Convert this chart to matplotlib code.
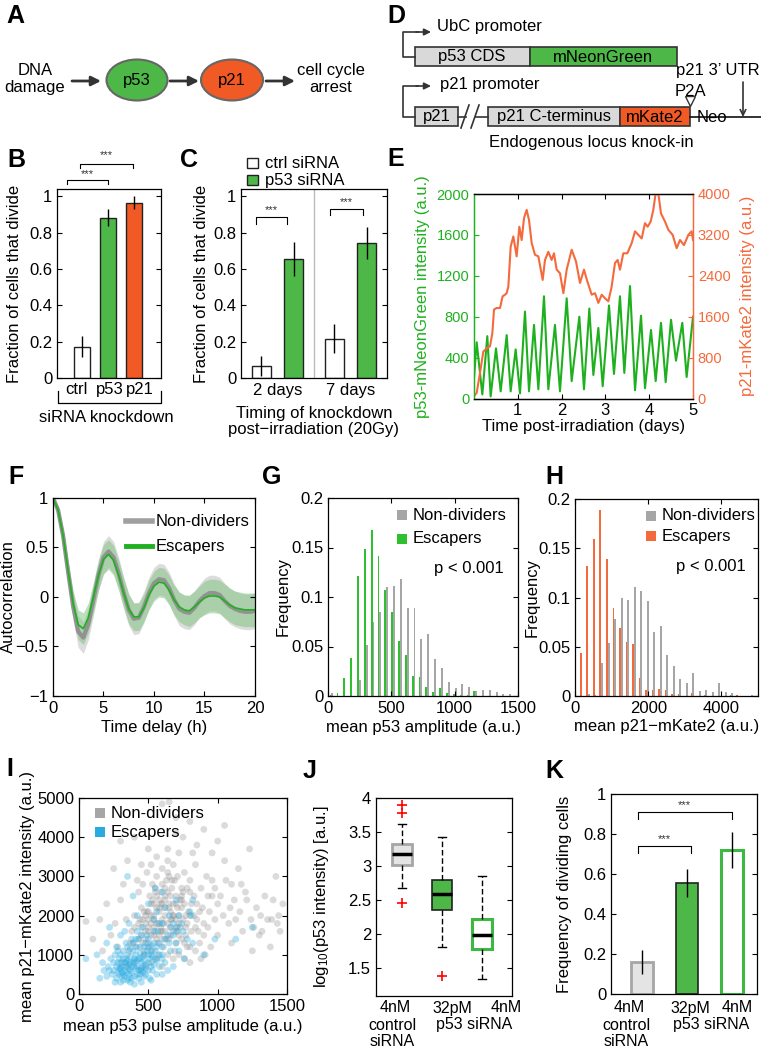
import matplotlib
matplotlib.use('Agg')
import matplotlib.pyplot as plt
from matplotlib.patches import Ellipse, Rectangle

plt.rcParams['font.family'] = ['Liberation Sans', 'DejaVu Sans']
plt.rcParams['font.size'] = 12
plt.rcParams['mathtext.default'] = 'regular'
plt.rcParams['axes.linewidth'] = 0.9
plt.rcParams['xtick.direction'] = 'in'
plt.rcParams['ytick.direction'] = 'in'
plt.rcParams['xtick.major.size'] = 3.5
plt.rcParams['ytick.major.size'] = 3.5
plt.rcParams['xtick.labelsize'] = 12
plt.rcParams['ytick.labelsize'] = 12

# ---------------- data ----------------
# B
b_labels = ['ctrl', 'p53', 'p21']
b_vals = [0.172, 0.883, 0.965]
b_err = [0.057, 0.049, 0.035]
# C
c_groups = ['2 days', '7 days']
c_ctrl = [0.065, 0.215]
c_ctrl_err = [0.055, 0.08]
c_p53 = [0.654, 0.745]
c_p53_err = [0.093, 0.088]
# E
e_green_t = [0, 0.061, 0.19, 0.304, 0.38, 0.502, 0.609, 0.746, 0.837, 0.951,
             1.05, 1.164, 1.256, 1.37, 1.469, 1.598, 1.697, 1.849, 1.963, 2.116,
             2.23, 2.405, 2.511, 2.633, 2.725, 2.839, 2.938, 3.082, 3.196, 3.333,
             3.432, 3.562, 3.676, 3.813, 3.904, 4.041, 4.148, 4.269, 4.376, 4.498,
             4.612, 4.756, 4.855, 5.0]
e_green = [200, 550, 40, 610, 20, 490, 70, 620, 70, 480,
           50, 850, 70, 720, 90, 1000, 90, 720, 70, 980,
           170, 800, 90, 880, 230, 690, 120, 910, 240, 1000,
           250, 1100, 80, 810, 100, 670, 170, 740, 160, 770,
           370, 740, 210, 800]
e_orange_t = [0, 0.061, 0.137, 0.213, 0.304, 0.365, 0.419, 0.457, 0.517, 0.594,
              0.654, 0.708, 0.746, 0.784, 0.837, 0.898, 0.974, 1.035, 1.088, 1.142,
              1.202, 1.256, 1.317, 1.393, 1.469, 1.568, 1.621, 1.697, 1.773, 1.826,
              1.887, 1.963, 2.04, 2.116, 2.23, 2.329, 2.42, 2.511, 2.588, 2.687,
              2.763, 2.839, 2.915, 2.991, 3.067, 3.143, 3.219, 3.28, 3.333, 3.409,
              3.501, 3.6, 3.676, 3.752, 3.828, 3.904, 3.965, 4.033, 4.094, 4.148,
              4.209, 4.269, 4.361, 4.437, 4.536, 4.627, 4.703, 4.795, 4.893, 4.969, 5.0]
e_orange = [45, 110, 500, 920, 990, 1020, 1280, 1740, 1770, 1770,
            2000, 2030, 2060, 2190, 2970, 3170, 2780, 3360, 3100, 3530,
            3690, 3490, 3040, 2810, 2780, 2320, 2710, 2870, 2710, 2840,
            2520, 2450, 2060, 2520, 2910, 2680, 2260, 2520, 2290, 2030,
            2060, 1870, 2030, 1960, 1900, 2190, 2650, 2710, 2520, 2840,
            2840, 3040, 3270, 3200, 3130, 3430, 3360, 3460, 3690, 4020,
            4010, 3620, 3460, 3300, 3200, 2940, 3100, 3000, 3200, 3270, 3100]
# F
f_t = [0, 0.5, 1, 1.5, 2, 2.5, 3, 3.5, 4, 4.5, 5, 5.5, 6, 6.5, 7, 7.5, 8, 8.5, 9, 9.5,
       10, 10.5, 11, 11.5, 12, 12.5, 13, 13.5, 14, 14.5, 15, 15.5, 16, 16.5, 17, 17.5,
       18, 18.5, 19, 19.5, 20]
f_gray = [1.0, 0.88, 0.62, 0.25, -0.1, -0.35, -0.41, -0.27, -0.03, 0.22,
          0.40, 0.46, 0.40, 0.24, 0.04, -0.13, -0.22, -0.21, -0.10, 0.04,
          0.14, 0.18, 0.17, 0.09, -0.03, -0.12, -0.15, -0.16, -0.11, -0.04,
          0.01, 0.04, 0.04, 0.02, -0.04, -0.09, -0.12, -0.14, -0.15, -0.15, -0.14]
f_green = [1.0, 0.88, 0.62, 0.26, -0.07, -0.28, -0.32, -0.21, 0.0, 0.22,
           0.38, 0.43, 0.37, 0.22, 0.04, -0.12, -0.20, -0.20, -0.11, 0.02,
           0.11, 0.15, 0.14, 0.07, -0.03, -0.10, -0.13, -0.14, -0.10, -0.05,
           -0.01, 0.01, 0.01, 0.0, -0.04, -0.08, -0.11, -0.12, -0.13, -0.13, -0.13]
f_gray_sd = [0.0, 0.03, 0.07, 0.11, 0.14, 0.16, 0.16, 0.16, 0.16, 0.16,
             0.16, 0.16, 0.16, 0.16, 0.16, 0.16, 0.16, 0.16, 0.16, 0.16,
             0.16, 0.16, 0.16, 0.16, 0.16, 0.17, 0.17, 0.17, 0.17, 0.17,
             0.18, 0.18, 0.18, 0.18, 0.18, 0.18, 0.18, 0.18, 0.18, 0.18, 0.18]
f_green_sd = [0.0, 0.03, 0.06, 0.10, 0.13, 0.15, 0.16, 0.15, 0.15, 0.15,
              0.15, 0.15, 0.15, 0.15, 0.15, 0.15, 0.14, 0.14, 0.14, 0.15,
              0.15, 0.15, 0.15, 0.15, 0.15, 0.15, 0.15, 0.16, 0.16, 0.16,
              0.17, 0.17, 0.17, 0.17, 0.17, 0.17, 0.17, 0.17, 0.17, 0.17, 0.17]
# G
g_bins = [28, 82, 136, 190, 244, 298, 352, 406, 460, 514, 568, 622, 676, 730,
          784, 838, 892, 946, 1000, 1054, 1108, 1162, 1216, 1270, 1324, 1378, 1432]
g_esc = [0.001, 0.003, 0.018, 0.038, 0.121, 0.148, 0.168, 0.141, 0.107, 0.085,
         0.056, 0.041, 0.020, 0.019, 0.009, 0.004, 0.008, 0.003, 0.002, 0.001,
         0.001, 0.005, 0, 0, 0, 0, 0]
g_non = [0.003, 0, 0, 0, 0.016, 0.052, 0.075, 0.085, 0.110, 0.111,
         0.118, 0.089, 0.089, 0.058, 0.063, 0.037, 0.028, 0.014, 0.008, 0.012,
         0.009, 0.005, 0.006, 0.006, 0.004, 0.002, 0.002]
# H
h_bins = [5, 183, 361, 539, 717, 895, 1073, 1251, 1429, 1607, 1785, 1963, 2141, 2319,
          2497, 2675, 2853, 3031, 3209, 3387, 3565, 3743, 3921, 4099, 4277, 4455, 4633, 4811]
h_esc = [0.001, 0.044, 0.132, 0.159, 0.189, 0.139, 0.089, 0.069, 0.055, 0.053,
         0.018, 0.006, 0.006, 0.007, 0.006, 0.002, 0.002, 0, 0.003, 0,
         0.001, 0, 0, 0, 0.001, 0.001, 0, 0]
h_non = [0, 0, 0.002, 0.001, 0.034, 0.054, 0.078, 0.099, 0.097, 0.111,
         0.107, 0.096, 0.065, 0.071, 0.042, 0.030, 0.017, 0.013, 0.023, 0.005,
         0.006, 0.004, 0.013, 0.004, 0.003, 0, 0, 0.001]
# I  (non-dividers and escapers, mean p53 pulse amplitude vs mean p21-mKate2)
i_non_x = [420, 450, 480, 500, 520, 540, 560, 580, 600, 620, 640, 660, 680, 700, 720, 740, 760, 780, 800,
           450, 470, 510, 530, 550, 570, 590, 610, 630, 650, 670, 690, 710, 730, 750, 770, 790, 810, 830,
           850, 870, 890, 910, 930, 950, 380, 360, 340, 400, 430, 460, 490, 520, 560, 600, 640, 680, 720,
           760, 800, 840, 880, 920, 960, 1000, 1040, 1080, 1120, 1160, 1200, 1240, 1280, 1320, 1360, 1400,
           1440, 1300, 1450, 1380, 1100, 1000, 980, 960, 1000, 1050, 900, 800, 650, 600, 700, 750, 850,
           400, 300, 350, 250, 200, 150, 50, 100, 170, 230, 280, 300, 320, 260, 310, 350, 400, 440, 480,
           520, 560, 600, 640, 680, 720, 760, 800, 840, 880, 570, 520, 500, 540, 580, 620, 660, 700, 740,
           780, 460, 480, 620, 660, 700, 600, 560, 640, 820, 1150, 1230, 1420, 1100, 1180, 1250, 960, 1050,
           900, 850, 700, 500, 450, 420, 540, 610, 590, 670, 730, 390, 430, 650, 550, 470]
i_non_y = [1200, 1500, 1800, 1300, 2000, 1700, 2200, 1500, 1900, 2400, 1800, 2100, 1600, 2500, 2000, 1400, 2300, 1800, 1200,
           2200, 1000, 2500, 1100, 2700, 1300, 2600, 1200, 2900, 1400, 2700, 1100, 3000, 1700, 2600, 1500, 2100, 1600, 2500,
           1900, 1300, 2200, 1000, 1700, 1200, 1600, 1100, 1900, 2000, 2600, 2800, 3100, 3300, 3500, 3200, 3400, 3300, 3600,
           3100, 2900, 3300, 2700, 3000, 2500, 2300, 2000, 1800, 2400, 2100, 2600, 1900, 2200, 1600, 1900, 2400,
           2000, 1500, 1600, 1200, 1300, 1500, 1900, 3600, 3900, 4300, 4200, 4400, 4900, 4850, 4500, 4000, 3800,
           4000, 3900, 3400, 3200, 2300, 1900, 1850, 1400, 1100, 1500, 1200, 2400, 2800, 1800, 800, 700, 800, 600, 700,
           800, 900, 700, 1000, 900, 1000, 900, 800, 1100, 900, 1000, 1500, 1700, 2300, 2100, 1600, 2500, 1900, 2200,
           2700, 1300, 1600, 2000, 1700, 1300, 2800, 3000, 3700, 3600, 3200, 3700, 3000, 2800, 1600, 1100, 2900, 3400,
           1500, 2300, 4100, 3700, 3300, 2900, 1900, 1400, 2300, 1900, 2400, 1300, 1800, 2200, 1600, 2100]
i_non_more = [(480, 1400), (500, 1900), (520, 2300), (540, 1500), (560, 1800), (580, 2400), (600, 1600),
              (620, 2200), (640, 2600), (660, 1500), (680, 2000), (700, 2300), (720, 1800), (740, 2700),
              (760, 1300), (500, 2100), (530, 2800), (560, 2500), (590, 1700), (620, 2700), (650, 3000),
              (680, 2300), (710, 1600), (740, 2400), (770, 2000), (800, 2600), (830, 2000), (860, 1600),
              (450, 1700), (480, 2000), (510, 1200), (540, 2000), (570, 1800), (600, 2300), (630, 1400),
              (660, 1900), (690, 2900), (720, 1500), (750, 1900), (780, 1200), (810, 2300), (840, 1700),
              (870, 2100), (900, 1800), (930, 2500), (440, 1900), (470, 1100), (500, 1600), (530, 2400),
              (560, 1400), (590, 1600), (620, 2500), (650, 2300), (680, 2000), (710, 2200), (740, 2500),
              (770, 1700), (800, 2000), (370, 1300), (400, 1700), (430, 1400), (460, 1900), (490, 2100),
              (520, 1800), (550, 2600), (580, 2200), (610, 1800), (640, 3100), (670, 2900), (700, 1700),
              (1020, 2500), (1060, 2900), (1090, 2200), (1130, 1900), (1170, 2800), (1210, 2400),
              (1260, 1700), (1310, 2000), (1340, 2500), (1390, 1900), (1430, 1800), (1470, 2300),
              (980, 2700), (940, 2100)]
i_esc_x = [250, 270, 280, 290, 300, 310, 320, 330, 340, 350, 360, 370, 380, 390, 400, 410, 420, 430, 440, 450,
           460, 470, 480, 490, 500, 510, 520, 530, 540, 550, 560, 570, 580, 600, 620, 640, 660, 680, 700, 720,
           750, 780, 800, 820, 560, 600, 540, 500, 460, 420, 390, 350, 300, 270, 230, 210, 180, 150, 200, 220,
           50, 130, 260, 300, 350, 400, 420, 380, 340, 330, 360, 440, 480, 520, 560, 600, 640, 680, 720, 760,
           820, 900, 980, 1130, 1250, 810, 550, 700, 650, 600, 500, 450, 410, 370, 320, 290, 310, 340, 370, 430,
           470, 520, 580, 600, 360, 400, 450, 300, 330, 280]
i_esc_y = [600, 400, 800, 500, 1000, 700, 350, 600, 900, 1200, 500, 800, 400, 1100, 700, 1400, 500, 900, 1200, 300,
           700, 1000, 500, 1500, 800, 400, 1100, 600, 1300, 900, 500, 1600, 1000, 1200, 800, 1500, 1100, 1800, 1300, 2000,
           1600, 1400, 2100, 2400, 2100, 2600, 1900, 2300, 1700, 2000, 2500, 3000, 1500, 1200, 900, 700, 600, 400, 1300, 1700,
           900, 1000, 300, 300, 350, 250, 1600, 1400, 1300, 1600, 1800, 900, 1300, 700, 1200, 500, 600, 700, 1100, 900,
           1300, 1000, 1400, 1400, 1700, 2000, 2700, 2400, 2000, 1800, 1000, 600, 1000, 600, 1100, 900, 450, 550, 300, 400,
           450, 350, 700, 900, 750, 850, 650, 650, 800, 550]
i_esc_more = [(290, 650), (300, 800), (310, 550), (320, 900), (330, 450), (340, 700), (350, 1000), (360, 650),
              (370, 950), (380, 550), (390, 800), (400, 450), (410, 650), (420, 850), (430, 600), (440, 1050),
              (450, 800), (460, 550), (470, 850), (480, 650), (490, 1100), (500, 600), (510, 900), (520, 1250),
              (530, 950), (540, 750), (550, 1100), (560, 850), (580, 1300), (600, 1000), (620, 1400), (650, 1300),
              (680, 1500), (710, 1700), (300, 650), (320, 500), (340, 800), (360, 400), (380, 700), (400, 900),
              (420, 700), (440, 500), (460, 950), (480, 750), (500, 1200), (520, 1000), (350, 850), (370, 1150),
              (390, 1300), (410, 1200), (430, 1400), (450, 1500), (470, 1200), (500, 1400), (540, 1600),
              (580, 1800), (620, 2200), (660, 1700), (700, 1600), (740, 1800), (270, 700), (250, 800),
              (240, 500), (220, 600), (200, 450), (170, 800), (260, 1000), (280, 1100)]
# J
j_line1 = ['4nM', '32pM', '4nM']
j_q1 = [3.02, 2.35, 1.78]
j_med = [3.18, 2.59, 1.98]
j_q3 = [3.32, 2.79, 2.22]
j_whislo = [2.68, 1.81, 1.34]
j_whishi = [3.62, 3.43, 2.85]
j_fliers = [[3.78, 3.89, 2.46], [1.39], []]
# K
k_vals = [0.158, 0.553, 0.72]
k_err = [0.06, 0.07, 0.09]

# ---------------- colours ----------------
GREEN_BAR = '#4DB848'
ORANGE_BAR = '#F15A24'
GREEN_LINE = '#1FB01F'
ORANGE_LINE = '#F46A3C'
GRAY_BAR = '#A6A6A6'
HIST_GREEN = '#2EC02E'
HIST_ORANGE = '#F46A3C'
BLUE = '#29ABE2'

W, H = 761, 1050
fig = plt.figure(figsize=(W / 100, H / 100), dpi=100)


def rect(x0, y0, x1, y1):
    return [x0 / W, 1 - y1 / H, (x1 - x0) / W, (y1 - y0) / H]


def boxed(ax, xt=False):
    ax.tick_params(top=True, right=True, direction='in')
    if not xt:
        ax.tick_params(axis='x', length=0)


def ylab(ax, text, x, **kw):
    ax.set_ylabel(text, **kw)
    ax.yaxis.set_label_coords(x, 0.5)
    ax.yaxis.label.set_va('center')


def xlab(ax, text, y, **kw):
    ax.set_xlabel(text, **kw)
    ax.xaxis.set_label_coords(0.5, y)
    ax.xaxis.label.set_va('center')


def bracket(ax, x0, x1, y, d, ys):
    ax.plot([x0, x0, x1, x1], [y - d, y, y, y - d], color='k', lw=0.8, clip_on=False)
    ax.text((x0 + x1) / 2, ys, '***', ha='center', va='center', fontsize=8, color='#333333')


# ---------------- B ----------------
axB = fig.add_axes(rect(57, 189, 161, 378))
xb = [1, 2, 3]
axB.bar(xb, b_vals, width=0.62, color=['white', GREEN_BAR, ORANGE_BAR], edgecolor='#222222', lw=1)
axB.errorbar(xb, b_vals, yerr=b_err, fmt='none', ecolor='k', elinewidth=1)
axB.set_xlim(0.05, 4.05)
axB.set_ylim(0, 1.04)
axB.set_xticks(xb, ['', '', ''])
for xl, lab in zip([0.78, 2.07, 3.22], b_labels):
    axB.text(xl, -0.063, lab, transform=axB.get_xaxis_transform(), ha='center', va='center')
axB.set_yticks([0, 0.2, 0.4, 0.6, 0.8, 1.0], ['0', '0.2', '0.4', '0.6', '0.8', '1'])
boxed(axB)
ylab(axB, 'Fraction of cells that divide', -0.404)
bracket(axB, 0.42, 2.0, 1.088, 0.022, 1.12)
bracket(axB, 0.92, 2.96, 1.18, 0.022, 1.225)

# ---------------- C ----------------
axC = fig.add_axes(rect(241, 189, 387, 378))
xc = [1, 2]
axC.bar([x - 0.22 for x in xc], c_ctrl, width=0.25, color='white', edgecolor='#222222', lw=1)
axC.bar([x + 0.22 for x in xc], c_p53, width=0.25, color=GREEN_BAR, edgecolor='#222222', lw=1)
axC.errorbar([x - 0.22 for x in xc], c_ctrl, yerr=c_ctrl_err, fmt='none', ecolor='k', elinewidth=1)
axC.errorbar([x + 0.22 for x in xc], c_p53, yerr=c_p53_err, fmt='none', ecolor='k', elinewidth=1)
axC.axvline(1.5, color='#BBBBBB', lw=1)
axC.set_xlim(0.5, 2.5)
axC.set_ylim(0, 1.04)
axC.set_xticks(xc, c_groups)
axC.set_yticks([0, 0.2, 0.4, 0.6, 0.8, 1.0], ['0', '0.2', '0.4', '0.6', '0.8', '1'])
boxed(axC)
ylab(axC, 'Fraction of cells that divide', -0.27)
xlab(axC, 'Timing of knockdown\npost\u2212irradiation (20Gy)', -0.23)
axC.xaxis.label.set_linespacing(1.05)
bracket(axC, 0.705, 1.13, 0.885, 0.035, 0.925)
bracket(axC, 1.72, 2.17, 0.93, 0.035, 0.97)

# ---------------- E ----------------
axE = fig.add_axes(rect(474, 194, 693, 398.5))
axE.plot(e_green_t, e_green, color=GREEN_LINE, lw=1.5)
axE.set_xlim(0, 5)
axE.set_ylim(0, 2000)
axE.set_xticks([1, 2, 3, 4, 5])
axE.set_yticks([0, 400, 800, 1200, 1600, 2000])
axE.tick_params(axis='x', top=True, direction='in')
axE.tick_params(axis='y', colors=GREEN_LINE, labelsize=10.5, direction='in')
axE.spines['left'].set_color(GREEN_LINE)
axE.spines['right'].set_color(ORANGE_LINE)
axE2 = axE.twinx()
axE2.plot(e_orange_t, e_orange, color=ORANGE_LINE, lw=1.5)
axE2.set_ylim(0, 4000)
axE2.set_yticks([0, 800, 1600, 2400, 3200, 4000])
axE2.tick_params(axis='y', colors=ORANGE_LINE, labelsize=10.5, direction='in')
axE2.spines['left'].set_color(GREEN_LINE)
axE2.spines['right'].set_color(ORANGE_LINE)
ylab(axE, 'p53-mNeonGreen intensity (a.u.)', -0.233, color=GREEN_LINE)
axE2.set_ylabel('p21-mKate2 intensity (a.u.)', color=ORANGE_LINE, rotation=90)
axE2.yaxis.set_label_coords(1.247, 0.5)
axE2.yaxis.label.set_va('center')
xlab(axE, 'Time post-irradiation (days)', -0.139)

# ---------------- F ----------------
axF = fig.add_axes(rect(53, 498, 255, 696))
axF.fill_between(f_t, [m - s for m, s in zip(f_gray, f_gray_sd)],
                 [m + s for m, s in zip(f_gray, f_gray_sd)], color='#DCDCDC', lw=0)
axF.fill_between(f_t, [m - s for m, s in zip(f_green, f_green_sd)],
                 [m + s for m, s in zip(f_green, f_green_sd)], color='#7CC47C', alpha=0.5, lw=0)
axF.plot(f_t, f_gray, color='#929292', lw=3)
axF.plot(f_t, f_green, color=GREEN_LINE, lw=1.2)
axF.set_xlim(0, 20)
axF.set_ylim(-1, 1)
axF.set_xticks([0, 5, 10, 15, 20])
axF.set_yticks([-1, -0.5, 0, 0.5, 1], ['\u22121', '\u22120.5', '0', '0.5', '1'])
boxed(axF, xt=True)
ylab(axF, 'Autocorrelation', -0.218)
xlab(axF, 'Time delay (h)', -0.157)

# ---------------- G ----------------
axG = fig.add_axes(rect(328, 498, 518, 696))
axG.bar([c - 7 for c in g_bins], g_esc, width=15, color=HIST_GREEN, lw=0)
axG.bar([c + 7 for c in g_bins], g_non, width=15, color=GRAY_BAR, lw=0)
axG.set_xlim(0, 1500)
axG.set_ylim(0, 0.2)
axG.set_xticks([0, 500, 1000, 1500])
axG.set_yticks([0, 0.05, 0.1, 0.15, 0.2], ['0', '0.05', '0.1', '0.15', '0.2'])
boxed(axG, xt=True)
ylab(axG, 'Frequency', -0.237)
xlab(axG, 'mean p53 amplitude (a.u.)', -0.157)

# ---------------- H ----------------
axH = fig.add_axes(rect(575, 499, 758, 696))
axH.bar([c - 23 for c in h_bins], h_esc, width=50, color=HIST_ORANGE, lw=0)
axH.bar([c + 23 for c in h_bins], h_non, width=50, color=GRAY_BAR, lw=0)
axH.set_xlim(0, 5000)
axH.set_ylim(0, 0.2)
axH.set_xticks([0, 2000, 4000])
axH.set_yticks([0, 0.05, 0.1, 0.15, 0.2], ['0', '0.05', '0.1', '0.15', '0.2'])
boxed(axH, xt=True)
ylab(axH, 'Frequency', -0.235)
xlab(axH, 'mean p21\u2212mKate2 (a.u.)', -0.157)

# ---------------- I ----------------
axI = fig.add_axes(rect(79, 798, 287, 994))
non_x = i_non_x + [p[0] for p in i_non_more]
non_y = i_non_y + [p[1] for p in i_non_more]
esc_x = i_esc_x + [p[0] for p in i_esc_more]
esc_y = i_esc_y + [p[1] for p in i_esc_more]
axI.scatter(non_x, non_y, s=24, color='#8A8A8A', alpha=0.3, edgecolors='none')
axI.scatter(esc_x, esc_y, s=24, color=BLUE, alpha=0.35, edgecolors='none')
axI.set_xlim(0, 1500)
axI.set_ylim(0, 5000)
axI.set_xticks([0, 500, 1000, 1500])
axI.set_yticks([0, 1000, 2000, 3000, 4000, 5000])
boxed(axI, xt=True)
ylab(axI, 'mean p21\u2212mKate2 intensity (a.u.)', -0.25)
xlab(axI, 'mean p53 pulse amplitude (a.u.)', -0.168)

# ---------------- J ----------------
axJ = fig.add_axes(rect(376, 798, 512, 996))
stats = []
for i in range(3):
    stats.append(dict(med=j_med[i], q1=j_q1[i], q3=j_q3[i], whislo=j_whislo[i],
                      whishi=j_whishi[i], fliers=j_fliers[i]))
bp = axJ.bxp(stats, positions=[1, 2, 3], widths=0.48, patch_artist=True,
             whiskerprops=dict(color='k', lw=1, linestyle=(0, (4, 2))),
             capprops=dict(color='k', lw=1), capwidths=0.2,
             medianprops=dict(color='k', lw=2.5),
             flierprops=dict(marker='+', markeredgecolor='red', markersize=7, mew=1.2))
box_fc = ['#E4E4E4', GREEN_BAR, 'white']
box_ec = ['#A6A6A6', '#222222', '#3DB843']
box_lw = [2, 1.2, 2.2]
for patch, fc, ec, lw in zip(bp['boxes'], box_fc, box_ec, box_lw):
    patch.set_facecolor(fc)
    patch.set_edgecolor(ec)
    patch.set_linewidth(lw)
axJ.set_xlim(0.35, 3.75)
axJ.set_ylim(1.09, 4.0)
axJ.set_xticks([1, 2, 3], ['', '', ''])
axJ.set_yticks([1.5, 2, 2.5, 3, 3.5, 4], ['1.5', '2', '2.5', '3', '3.5', '4'])
boxed(axJ)
ylab(axJ, 'log$_{10}$(p53 intensity) [a.u.]', -0.4)

# ---------------- K ----------------
axK = fig.add_axes(rect(611, 794, 757, 994))
xk = [1, 2, 3]
axK.bar(xk, k_vals, width=0.49, color=['#E4E4E4', GREEN_BAR, 'white'],
        edgecolor=['#A6A6A6', '#222222', '#3DB843'], lw=[2, 1.2, 2.2])
axK.errorbar(xk, k_vals, yerr=k_err, fmt='none', ecolor='k', elinewidth=1)
axK.set_xlim(0.31, 3.55)
axK.set_ylim(0, 1)
axK.set_xticks(xk, ['', '', ''])
axK.set_yticks([0, 0.2, 0.4, 0.6, 0.8, 1.0], ['0', '0.2', '0.4', '0.6', '0.8', '1'])
boxed(axK)
ylab(axK, 'Frequency of dividing cells', -0.32)
bracket(axK, 0.9, 2.08, 0.74, 0.035, 0.775)
bracket(axK, 0.9, 2.99, 0.91, 0.035, 0.945)

# ---------------- overlay (schematics, legends, letters) ----------------
ov = fig.add_axes([0, 0, 1, 1])
ov.set_xlim(0, W)
ov.set_ylim(H, 0)
ov.axis('off')


def arrow(x0, y0, x1, y1, style='-|>', lw=2, ms=14, color='#333333'):
    ov.annotate('', xy=(x1, y1), xytext=(x0, y0),
                arrowprops=dict(arrowstyle=style, color=color, lw=lw, mutation_scale=ms,
                                shrinkA=0, shrinkB=0))


# J / K category labels (three lines each)
for cx, lines in [(392, ['4nM', 'control', 'siRNA']), (626, ['4nM', 'control', 'siRNA'])]:
    for ly, t in zip([1008, 1025, 1042], lines):
        ov.text(cx + (3 if t == '4nM' else 0), ly, t, ha='center', va='center', fontsize=11.5)
for cx, t in [(452, j_line1[1]), (506, j_line1[2]), (690, '32pM'), (737, '4nM')]:
    ov.text(cx, 1008, t, ha='center', va='center', fontsize=11.5)
ov.text(474, 1025, 'p53 siRNA', ha='center', va='center', fontsize=11.5)
ov.text(711, 1025, 'p53 siRNA', ha='center', va='center', fontsize=11.5)

# A
ov.text(35, 79, 'DNA\ndamage', ha='center', va='center', linespacing=1.1)
arrow(72, 81, 101, 81)
ov.add_patch(Ellipse((137, 80), 61, 41, fc=GREEN_BAR, ec='#666666', lw=1.5))
ov.text(137, 81, 'p53', ha='center', va='center')
arrow(170, 81, 199, 81)
ov.add_patch(Ellipse((232, 80), 62, 41, fc=ORANGE_BAR, ec='#666666', lw=1.5))
ov.text(232, 81, 'p21', ha='center', va='center')
arrow(266, 81, 295, 81)
ov.text(331, 79, 'cell cycle\narrest', ha='center', va='center', linespacing=1.1)

# D
dk = '#333333'
ov.plot([415, 403, 403, 418], [57, 57, 32, 32], color=dk, lw=1.2)
arrow(416, 32, 431, 32, lw=1.2, ms=10, color=dk)
ov.text(437, 27, 'UbC promoter', ha='left', va='center')
ov.add_patch(Rectangle((415, 47), 115, 19, fc='#D9D9D9', ec=dk, lw=1.2))
ov.add_patch(Rectangle((530, 47), 147, 19, fc=GREEN_BAR, ec=dk, lw=1.2))
ov.text(472, 57, 'p53 CDS', ha='center', va='center')
ov.text(603, 57, 'mNeonGreen', ha='center', va='center')
ov.text(760, 71, 'p21 3\u2019 UTR', ha='right', va='center')
ov.plot([415, 403, 403, 418], [117, 117, 86, 86], color=dk, lw=1.2)
arrow(416, 86, 431, 86, lw=1.2, ms=10, color=dk)
ov.text(440, 85, 'p21 promoter', ha='left', va='center')
ov.add_patch(Rectangle((415, 107), 43, 19, fc='#D9D9D9', ec=dk, lw=1.2))
ov.text(436.5, 117, 'p21', ha='center', va='center')
ov.plot([458, 466], [117, 117], color=dk, lw=1.2)
ov.plot([461, 469], [128, 105], color=dk, lw=1.2)
ov.plot([471, 479], [128, 105], color=dk, lw=1.2)
ov.plot([476, 488], [117, 117], color=dk, lw=1.2)
ov.add_patch(Rectangle((488, 107), 132, 19, fc='#D9D9D9', ec=dk, lw=1.2))
ov.add_patch(Rectangle((620, 107), 70, 19, fc=ORANGE_BAR, ec=dk, lw=1.2))
ov.text(554, 117, 'p21 C-terminus', ha='center', va='center')
ov.text(655, 117, 'mKate2', ha='center', va='center')
ov.text(712, 117, 'Neo', ha='center', va='center')
ov.plot([690, 761], [117, 117], color='#111111', lw=1.2)
arrow(743, 82, 743, 117, style='->', lw=1.2, ms=10, color=dk)
ov.text(690, 91, 'P2A', ha='center', va='center')
ov.plot([690], [101], marker='v', ms=7, mfc='white', mec=dk, mew=1)
ov.text(591, 142, 'Endogenous locus knock-in', ha='center', va='center')

# C legend
ov.add_patch(Rectangle((247, 158), 11, 10, fc='white', ec='#222222', lw=1))
ov.text(265, 163, 'ctrl siRNA', ha='left', va='center')
ov.add_patch(Rectangle((247, 175), 11, 10, fc=GREEN_BAR, ec='#222222', lw=1))
ov.text(265, 180, 'p53 siRNA', ha='left', va='center')

# B bottom bracket
ov.plot([58, 58, 161, 161], [391, 403, 403, 391], color='k', lw=0.9)
ov.text(106, 418, 'siRNA knockdown', ha='center', va='center')

# F legend
ov.plot([126, 152], [521, 521], color='#A0A0A0', lw=4)
ov.text(156, 521, 'Non-dividers', ha='left', va='center')
ov.plot([126, 152], [546, 546], color=GREEN_LINE, lw=3.5)
ov.text(156, 546, 'Escapers', ha='left', va='center')

# G legend
ov.add_patch(Rectangle((397, 510), 10, 10, fc=GRAY_BAR, lw=0))
ov.text(413, 515, 'Non-dividers', ha='left', va='center')
ov.add_patch(Rectangle((397, 534), 10, 10, fc=HIST_GREEN, lw=0))
ov.text(413, 539, 'Escapers', ha='left', va='center')
ov.text(469, 568, 'p < 0.001', ha='center', va='center')

# H legend
ov.add_patch(Rectangle((646, 511), 10, 10, fc=GRAY_BAR, lw=0))
ov.text(662, 516, 'Non-dividers', ha='left', va='center')
ov.add_patch(Rectangle((646, 531), 10, 10, fc=HIST_ORANGE, lw=0))
ov.text(662, 536, 'Escapers', ha='left', va='center')
ov.text(711, 567, 'p < 0.001', ha='center', va='center')

# I legend
ov.add_patch(Rectangle((95, 808), 10, 10, fc=GRAY_BAR, lw=0))
ov.text(111, 813, 'Non-dividers', ha='left', va='center')
ov.add_patch(Rectangle((95, 827), 10, 10, fc=BLUE, lw=0))
ov.text(111, 832, 'Escapers', ha='left', va='center')

# panel letters
for letter, (x, y) in {'A': (15, 16), 'D': (396, 16), 'B': (16, 160), 'C': (189, 160),
                       'E': (396, 159), 'F': (16, 477), 'G': (272, 477), 'H': (554, 477),
                       'I': (10, 769), 'J': (310, 771), 'K': (554, 771)}.items():
    ov.text(x, y, letter, ha='center', va='center', fontsize=18, fontweight='bold')

fig.savefig('out.png', dpi=100)
